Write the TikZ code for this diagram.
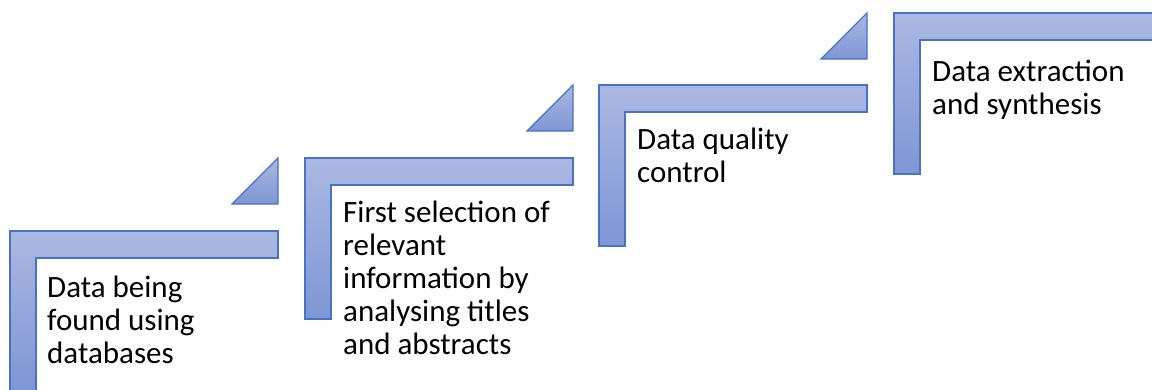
\documentclass[tikz,border=0pt]{standalone}
\usepackage{fontspec}
\setmainfont{Carlito}
\definecolor{barlight}{RGB}{170,184,226}
\definecolor{bardark}{RGB}{126,150,212}
\definecolor{barline}{RGB}{72,114,196}
\tikzset{
  stepshape/.style={draw=barline, line width=1.2pt, line join=miter, top color=barlight, bottom color=bardark},
  steptext/.style={anchor=base west, inner sep=0pt, font=\fontsize{31}{33}\selectfont}
}
\begin{document}
\begin{tikzpicture}[x=1pt,y=-1pt]
\useasboundingbox (0,0) rectangle (1152,389);
\clip (0,0) rectangle (1152,389);
% step shapes: left, top
\foreach \L/\T in {10/231, 305/158, 599/85, 894/13}{
  \path[stepshape] (\L,\T) -- (\L+268,\T) -- (\L+268,\T+27) -- (\L+26,\T+27) -- (\L+26,\T+161) -- (\L,\T+161) -- cycle;
}
% connecting triangles: right x, top y
\foreach \R/\T in {278/158, 573/85, 867/13}{
  \path[stepshape] (\R-46,\T+46) -- (\R,\T+46) -- (\R,\T) -- cycle;
}
\node[steptext] (t1) at (47,297) {\parbox[t]{240pt}{\raggedright Data being\\found using\\databases}};
\node[steptext] (t2) at (343,222) {\parbox[t]{240pt}{\raggedright First selection of\\relevant\\information by\\analysing titles\\and abstracts}};
\node[steptext] (t3) at (637,149) {\parbox[t]{240pt}{\raggedright Data quality\\control}};
\node[steptext] (t4) at (932,81) {\parbox[t]{240pt}{\raggedright Data extraction\\and synthesis}};
\end{tikzpicture}
\end{document}
